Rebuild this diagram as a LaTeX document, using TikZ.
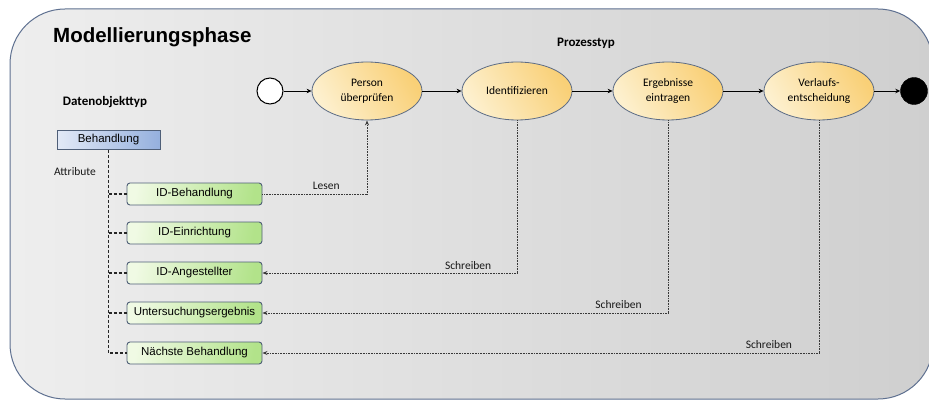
\documentclass[tikz,border=0pt]{standalone}
\usepackage{fontspec}
\setmainfont{Liberation Sans}
\newfontfamily\calfont{Carlito}
\newfontfamily\arfont{Liberation Sans}
\usetikzlibrary{arrows.meta,shapes.geometric}

\definecolor{frameline}{HTML}{5E7090}
\definecolor{bgleft}{HTML}{EEEEEE}
\definecolor{bgright}{HTML}{CFCFCF}
\definecolor{ellA}{HTML}{FDF0CE}
\definecolor{ellB}{HTML}{F9D077}
\definecolor{ellline}{HTML}{5B6B85}
\definecolor{blueA}{HTML}{E2E9F6}
\definecolor{blueB}{HTML}{95B0DE}
\definecolor{greenA}{HTML}{F0FAE4}
\definecolor{greenB}{HTML}{B2E38A}
\definecolor{boxline}{HTML}{4F5F78}
\definecolor{linkgray}{HTML}{383838}

\tikzset{
  x=1pt, y=-1pt,
  task/.style={ellipse, draw=ellline, line width=0.8pt,
    left color=ellA, right color=ellB, shading angle=120,
    minimum width=110pt, minimum height=58pt, inner sep=0pt,
    align=center, font=\calfont\fontsize{11.5}{14.5}\selectfont},
  startev/.style={circle, draw=black, line width=1pt, fill=white,
    minimum size=26pt, inner sep=0pt},
  endev/.style={circle, draw=black, fill=black, minimum size=27pt, inner sep=0pt},
  flow/.style={draw=black, line width=0.9pt, -{Stealth[length=5pt,width=4.5pt]}},
  entity/.style={rectangle, draw=boxline, line width=0.9pt,
    left color=blueA, right color=blueB,
    minimum width=103pt, minimum height=19pt, inner sep=0pt,
    font=\arfont\fontsize{11.5}{13}\selectfont},
  attr/.style={rectangle, rounded corners=3pt, draw=boxline, line width=0.9pt,
    left color=greenA, right color=greenB, shading angle=80,
    minimum width=135pt, minimum height=22pt, inner sep=0pt,
    font=\arfont\fontsize{11.5}{13}\selectfont},
  tree/.style={draw=black!85, line width=1.2pt, dash pattern=on 3pt off 2pt},
  access/.style={draw=linkgray, line width=0.9pt, dash pattern=on 0.8pt off 0.8pt},
  accessarrow/.style={access, -{Stealth[length=5pt,width=4pt]}},
  lbl/.style={font=\calfont\fontsize{11.5}{13}\selectfont, text=black!90, inner sep=1pt},
  heading/.style={font=\calfont\bfseries\fontsize{13}{15}\selectfont, inner sep=0pt},
}

\begin{document}
\begin{tikzpicture}
\useasboundingbox (0,0) rectangle (929,401);

% phase frame
\path[draw=frameline, line width=1pt, left color=bgleft, right color=bgright,
      rounded corners=55pt] (10,9) rectangle (933,399);

\node[anchor=west, inner sep=0pt, font=\arfont\bfseries\fontsize{20.5}{24}\selectfont]
  (title) at (53,37) {Modellierungsphase};
\node[heading] (ptyp) at (586,43) {Prozesstyp};
\node[heading] (dtyp) at (105,102) {Datenobjekttyp};

% process type
\node[startev] (start) at (270,91) {};
\node[task] (p1) at (367,91) {Person\\überprüfen};
\node[task] (p2) at (517,91) {Identifizieren};
\node[task] (p3) at (668,91) {Ergebnisse\\eintragen};
\node[task] (p4) at (819,91) {Verlaufs-\\entscheidung};
\node[endev] (end) at (914,91) {};

\draw[flow] (start) -- (p1);
\draw[flow] (p1) -- (p2);
\draw[flow] (p2) -- (p3);
\draw[flow] (p3) -- (p4);
\draw[flow] (p4) -- (end);

% data object type
\node[entity] (beh) at (108.5,140) {Behandlung};
\node[lbl] (attrlbl) at (75,172) {Attribute};

\node[attr] (a1) at (194.5,194) {ID-Behandlung};
\node[attr] (a2) at (194.5,233) {ID-Einrichtung};
\node[attr] (a3) at (194.5,273) {ID-Angestellter};
\node[attr] (a4) at (194.5,313) {Untersuchungsergebnis};
\node[attr] (a5) at (194.5,353) {Nächste Behandlung};

\draw[tree] (beh.south) -- (beh.south |- a5.west) -- (a5.west);
\foreach \a in {a1,a2,a3,a4}
  \draw[tree] (beh.south |- \a.west) -- (\a.west);

% read / write access
\draw[accessarrow] (a1.east) -| node[lbl, pos=0.305, above=3pt] {Lesen} (p1.south);
\draw[accessarrow] (p2.south) |- node[lbl, pos=0.596, above=2pt] {Schreiben} (a3.east);
\draw[accessarrow] (p3.south) |- node[lbl, pos=0.561, above=3pt] {Schreiben} (a4.east);
\draw[accessarrow] (p4.south) |- node[lbl, pos=0.545, above=3pt] {Schreiben} (a5.east);
\end{tikzpicture}
\end{document}
